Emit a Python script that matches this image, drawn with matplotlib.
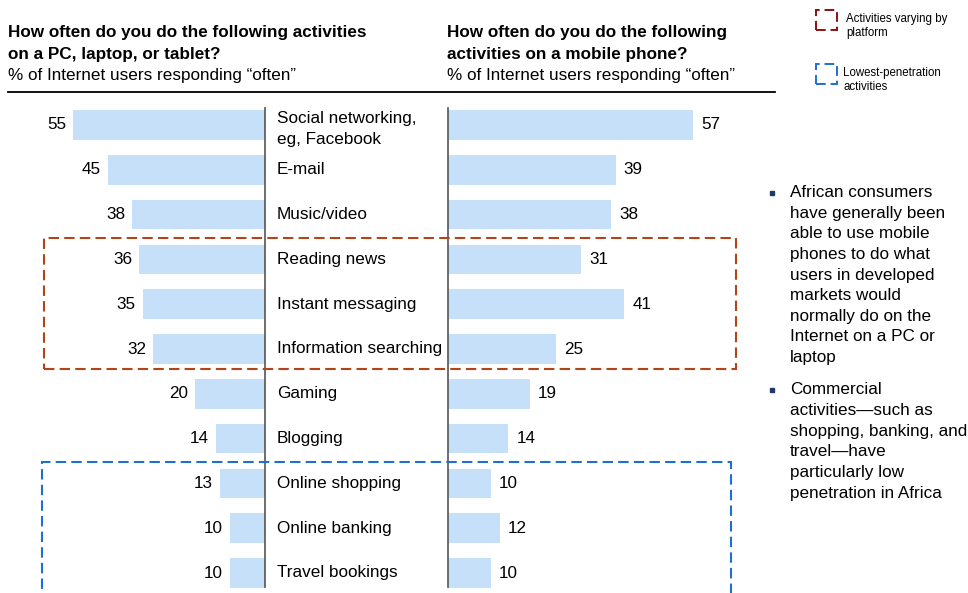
import matplotlib.pyplot as plt
import matplotlib.transforms as mtransforms
from matplotlib.patches import Rectangle

plt.rcParams['font.family'] = ['Liberation Sans', 'DejaVu Sans']

# data
activities = ['Social networking,\neg, Facebook', 'E-mail', 'Music/video', 'Reading news',
              'Instant messaging', 'Information searching', 'Gaming', 'Blogging',
              'Online shopping', 'Online banking', 'Travel bookings']
pc_share = [55, 45, 38, 36, 35, 32, 20, 14, 13, 10, 10]
mobile_share = [57, 39, 38, 31, 41, 25, 19, 14, 10, 12, 10]

left_title = 'How often do you do the following activities\non a PC, laptop, or tablet?'
right_title = 'How often do you do the following\nactivities on a mobile phone?'
subtitle = '% of Internet users responding \u201coften\u201d'
bullets = ['African consumers\nhave generally been\nable to use mobile\nphones to do what\nusers in developed\nmarkets would\nnormally do on the\nInternet on a PC or\nlaptop',
           'Commercial\nactivities\u2014such as\nshopping, banking, and\ntravel\u2014have\nparticularly low\npenetration in Africa']

W, H = 968, 593
bar_color = '#C6E0F9'
red = '#B0441A'
blue = '#1F6FD0'
fs = 12.3

fig = plt.figure(figsize=(W / 100, H / 100), dpi=100)

def px_box(x0, y0, x1, y1):
    # pixel box (top-left origin) -> figure fraction rect
    return [x0 / W, 1 - y1 / H, (x1 - x0) / W, (y1 - y0) / H]

top, bottom = 100, 593
row0, step = 125, 44.8
ylo = -(row0 - top) / step
yhi = len(activities) - 1 + (bottom - (row0 + step * (len(activities) - 1))) / step

# left panel (bars grow to the left)
axL = fig.add_axes(px_box(0, top, 265, bottom))
axL.barh(range(len(activities)), pc_share, height=0.66, color=bar_color)
axL.set_xlim(265 / 3.49, 0)
axL.set_ylim(yhi, ylo)
axL.axis('off')
for i, v in enumerate(pc_share):
    axL.text(v + 2.0, i, str(v), ha='right', va='center', fontsize=fs)
axL.plot([0, 0], [-0.37, 10.32], color='#555555', lw=1.2, clip_on=False)

# right panel
axR = fig.add_axes(px_box(448, top, 775, bottom))
axR.barh(range(len(activities)), mobile_share, height=0.66, color=bar_color)
axR.set_xlim(0, 327 / 4.3)
axR.set_ylim(yhi, ylo)
axR.axis('off')
for i, v in enumerate(mobile_share):
    axR.text(v + 1.9, i, str(v), ha='left', va='center', fontsize=fs)
axR.plot([0, 0], [-0.37, 10.32], color='#555555', lw=1.2, clip_on=False)

# category labels between the panels
trans = mtransforms.blended_transform_factory(fig.transFigure, axL.transData)
for i, name in enumerate(activities):
    yy = i + 0.1 if '\n' in name else i
    fig.text(277 / W, yy, name, transform=trans, ha='left', va='center',
             fontsize=fs, linespacing=1.5)

# titles
fig.text(8 / W, 1 - 25 / H, left_title, ha='left', va='top', fontsize=fs,
         fontweight='bold', linespacing=1.58)
fig.text(8 / W, 1 - 68 / H, subtitle, ha='left', va='top', fontsize=fs)
fig.text(447 / W, 1 - 25 / H, right_title, ha='left', va='top', fontsize=fs,
         fontweight='bold', linespacing=1.58)
fig.text(447 / W, 1 - 68 / H, subtitle, ha='left', va='top', fontsize=fs)
fig.add_artist(plt.Line2D([8 / W, 775 / W], [1 - 92 / H, 1 - 92 / H], color='black',
                          lw=1.3, transform=fig.transFigure))

# dashed highlight boxes
def dashed_box(x0, y0, x1, y1, color, lw=1.5):
    r = Rectangle((x0 / W, 1 - y1 / H), (x1 - x0) / W, (y1 - y0) / H,
                  transform=fig.transFigure, fill=False, edgecolor=color,
                  lw=lw, linestyle=(0, (5, 2.5)))
    fig.add_artist(r)

dashed_box(44, 238, 736, 369, red)
dashed_box(42, 462, 731, 600, blue)

# legend
dashed_box(816, 10, 837, 30, '#8B1010', lw=1.4)
fig.text(846 / W, 1 - 26 / H, 'Activities varying by\nplatform', ha='left', va='center',
         fontsize=8.3, linespacing=1.15)
dashed_box(816, 64, 837, 84, blue, lw=1.4)
fig.text(843 / W, 1 - 80 / H, 'Lowest-penetration\nactivities', ha='left', va='center',
         fontsize=8.3, linespacing=1.15)

# bullet notes
by = 185
for b in bullets:
    fig.add_artist(plt.Line2D([772 / W], [1 - (by + 8) / H], marker='s', markersize=3.5,
                              color='#1F3A6E', transform=fig.transFigure))
    fig.text(790 / W, 1 - by / H, b, ha='left', va='top', fontsize=fs,
             linespacing=1.47)
    by += 20.6 * (b.count('\n') + 1) + 12

fig.savefig('out.png', dpi=100)
